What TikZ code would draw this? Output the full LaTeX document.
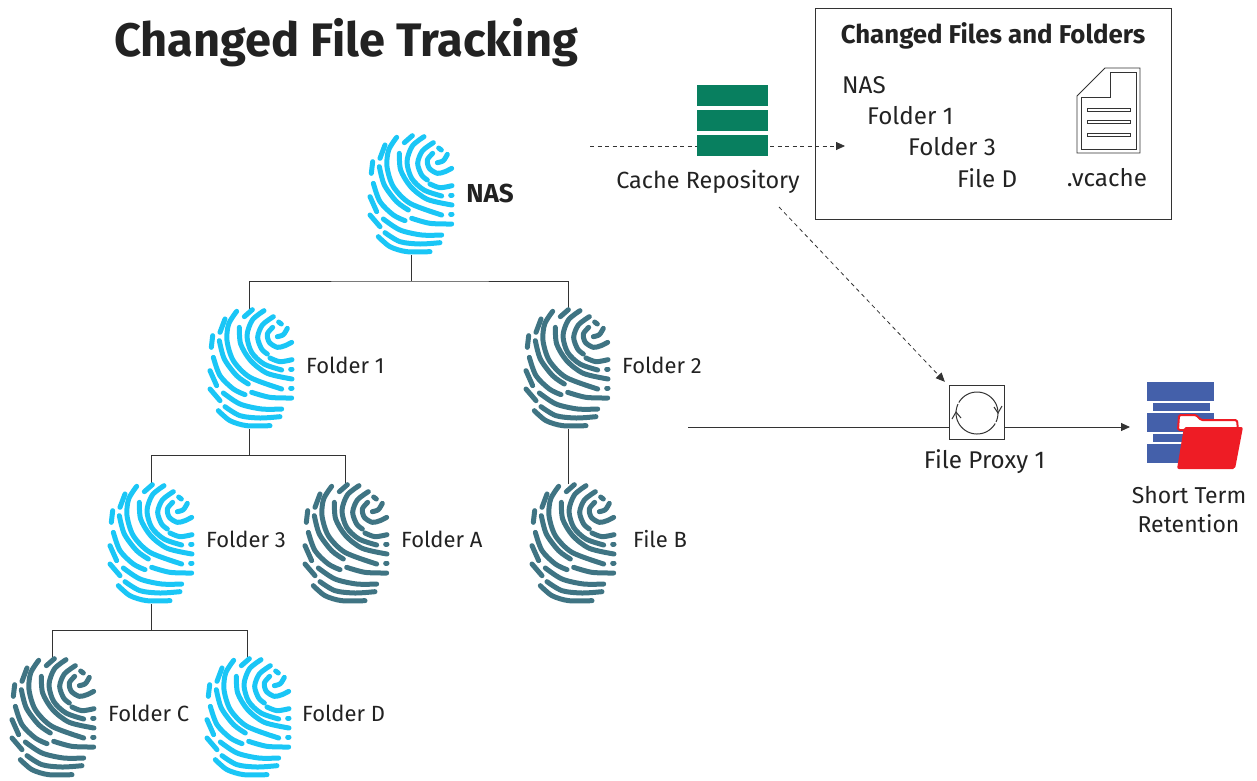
\documentclass[tikz,border=0pt]{standalone}
\usepackage{fontspec}
\setmainfont{Fira Sans}
\newfontfamily\titlefont{Fira Sans}
\usetikzlibrary{arrows.meta,calc}
\definecolor{fpcyan}{HTML}{1AC6F6}
\definecolor{fpteal}{HTML}{3F7483}
\definecolor{repgreen}{HTML}{087F5F}
\definecolor{stblue}{HTML}{4460AA}
\definecolor{stred}{HTML}{EE1C25}
\definecolor{ink}{HTML}{222222}
\definecolor{wire}{HTML}{333333}
\newcommand\fpstroke[1]{\draw plot[smooth] coordinates {#1};}
\newcommand\fpall{%
\fpstroke{(292,103)(280,122)(262,128)}
\fpstroke{(266,84)(274,90)}
\fpstroke{(248,100)(232,120)(238,145)(262,160)(285,155)(305,145)}
\fpstroke{(250,68)(217,93)(203,130)(215,165)(232,180)}
\fpstroke{(240,192)(270,203)(306,197)}
\fpstroke{(222,50)(187,78)(171,125)(185,175)(222,210)(275,228)}
\fpstroke{(187,47)(163,68)}
\fpstroke{(148,100)(152,150)(182,200)(232,238)(306,255)}
\fpstroke{(140,52)(116,90)(111,140)(130,200)(180,250)(275,285)}
\fpstroke{(105,75)(90,115)}
\fpstroke{(88,140)(103,195)(140,245)(175,270)}
\fpstroke{(68,125)(64,160)}
\fpstroke{(70,190)(90,245)(130,285)(165,302)}
\fpstroke{(185,295)(240,310)(305,312)}
\fpstroke{(302,225)(306,225)}
\fpstroke{(302,282)(306,282)}
\fpstroke{(60,230)(80,275)}
\fpstroke{(100,297)(150,330)(215,345)(275,345)}
\fpstroke{(60,285)(90,320)}
\fpstroke{(105,338)(150,365)(210,372)(270,368)}
\fpstroke{(85,350)(120,380)(170,395)(240,395)}
}
\tikzset{
  anchorbox/.style={minimum width=84pt,minimum height=120pt,inner sep=0pt},
  lbl/.style={text=ink,font=\fontsize{22}{26}\selectfont,inner sep=0pt},
  lblL/.style={lbl,anchor=west},
  lblB/.style={lbl,font=\fontsize{24.2}{28}\selectfont},
  lblBL/.style={lblB,anchor=west},
  tree/.style={draw=wire,line width=0.9pt},
  dashline/.style={draw=wire,line width=0.8pt,dash pattern=on 4pt off 3.5pt},
  tip/.style={-{Triangle[length=9pt,width=8pt]}},
  pics/fp/.style={code={
    \begin{scope}[x=0.3333pt,y=-0.3333pt,shift={(-183,-225)},draw=#1,line width=5pt,line cap=round,line join=round]
      \fpall
    \end{scope}
  }}
}
\begin{document}
\begin{tikzpicture}[x=1pt,y=-1pt]
\useasboundingbox (0,0) rectangle (1257,780);
% anchors for the tree connectors
\node[anchorbox] (nas) at (411,195) {};
\node[anchorbox] (f1) at (249,369) {};
\node[anchorbox] (f2) at (568,369) {};
\node[anchorbox] (f3) at (151,544) {};
\node[anchorbox] (fa) at (345,544) {};
\node[anchorbox] (fb) at (568,544) {};
\node[anchorbox] (fc) at (52,718) {};
\node[anchorbox] (fd) at (247,718) {};
% connectors
\coordinate (nasj) at (411,281);
\coordinate (f1j) at (249,455);
\coordinate (f3j) at (151,630);
\draw[tree] (nas.south) -- (nasj);
\draw[tree] (f1.north) |- (nasj) -| (f2.north);
\draw[tree] (f1.south) -- (f1j);
\draw[tree] (f3.north) |- (f1j) -| (fa.north);
\draw[tree] (f3.south) -- (f3j);
\draw[tree] (fc.north) |- (f3j) -| (fd.north);
\draw[tree] (f2.south) -- (fb.north);
% fingerprints
\pic at (411,195) {fp=fpcyan};
\pic at (251,369) {fp=fpcyan};
\pic at (567,369) {fp=fpteal};
\pic at (151,544) {fp=fpcyan};
\pic at (346,544) {fp=fpteal};
\pic at (573,544) {fp=fpteal};
\pic at (53,718) {fp=fpteal};
\pic at (248,718) {fp=fpcyan};
% labels
\node[anchor=center,text=ink,font=\fontsize{26}{30}\selectfont\bfseries,inner sep=0pt] (nasl) at (490,193) {NAS};
\node[lblL] (f1l) at (306,365.5) {Folder 1};
\node[lblL] (f2l) at (622,365.5) {Folder 2};
\node[lblL] (f3l) at (206,539.5) {Folder 3};
\node[lblL] (fal) at (401,539.5) {Folder A};
\node[lblL] (fbl) at (633,539.5) {File B};
\node[lblL] (fcl) at (108,713.5) {Folder C};
\node[lblL] (fdl) at (302,713.5) {Folder D};
% title
\node[anchor=west,text=ink,inner sep=0pt,font=\fontsize{47}{50}\selectfont\titlefont\bfseries] (title) at (114,43) {Changed File Tracking};
% changed files box
\node[draw=wire,line width=1pt,minimum width=356pt,minimum height=211pt,inner sep=0pt] (box) at (993,113.5) {};
\node[text=ink,font=\fontsize{25.8}{29}\selectfont\bfseries,inner sep=0pt] (boxt) at (993,36) {Changed Files and Folders};
\node[lblBL] (t1) at (842,85) {NAS};
\node[lblBL] (t2) at (867,116) {Folder 1};
\node[lblBL] (t3) at (908,147) {Folder 3};
\node[lblBL] (t4) at (957,178) {File D};
\node[lblB] (t5) at (1107,178) {.vcache};
% document icon
\draw[wire,line width=0.9pt,fill=white] (1105,68) -- (1140,68) -- (1140,153) -- (1077,153) -- (1077,96) -- cycle;
\draw[wire,line width=0.8pt] (1110,72) -- (1136,72) -- (1136,149) -- (1081,149) -- (1081,97) -- (1110,97) -- cycle;
\foreach \yy in {110,122,135}{
  \draw[wire,line width=0.8pt,fill=white] (1087,\yy-1.5) rectangle (1130,\yy+1.5);
}
% cache repository
\coordinate (dashs) at (590,146);
\coordinate (dashe) at (845,146);
\coordinate (crs) at (779,207);
\node[draw=none,inner sep=0pt,minimum width=54pt,minimum height=53pt] (proxy) at (977,412.5) {};
\draw[dashline,tip] (dashs) -- (dashe);
\draw[dashline,tip] (crs) -- ($(proxy.north west)+(-5,-4)$);
\foreach \yy in {85,110,135}{
  \fill[repgreen] (697,\yy) rectangle (768,\yy+21);
}
\node[lbl,font=\fontsize{23.4}{28}\selectfont] (crl) at (708,182) {Cache Repository};
% file proxy
\draw[wire,line width=1pt,fill=white] (proxy.north west) rectangle (proxy.south east);
\coordinate (pc) at (977,413);
\draw[wire,line width=1pt] plot[smooth,domain=-150:25,samples=30] ({977+21*cos(\x)},{413+21*sin(\x)});
\draw[wire,line width=1pt] plot[smooth,domain=30:205,samples=30] ({977+21*cos(\x)},{413+21*sin(\x)});
\draw[wire,line width=1pt] (994,407) -- (998,413) -- (1002,406);
\draw[wire,line width=1pt] (952,419) -- (956,412) -- (961,418);
\node[lblB] (pl) at (984.5,462) {File Proxy 1};
% lines through proxy
\coordinate (ws) at (688,427);
\coordinate (we) at (1130,427);
\draw[tree] (ws) -- (ws -| proxy.west);
\draw[tree,tip] (we -| proxy.east) -- (we);
% short term retention
\fill[stblue] (1147,382) rectangle (1214,401);
\fill[stblue] (1153,403) rectangle (1210,411);
\fill[stblue] (1147,413) rectangle (1214,432);
\fill[stblue] (1153,434) rectangle (1210,442);
\fill[stblue] (1147,444) rectangle (1214,463);
\draw[stred,line width=2pt,fill=white,rounded corners=1.5pt] (1179,415) -- (1196,415) -- (1201,420) -- (1237,420) -- (1238,430) -- (1178,430) -- cycle;
\fill[stred,rounded corners=2pt] (1184,427) -- (1243,427) -- (1235,469) -- (1177,469) -- cycle;
\node[lbl,font=\fontsize{23}{27}\selectfont] (st1) at (1189,495) {Short Term};
\node[lbl,font=\fontsize{23}{27}\selectfont] (st2) at (1188.5,524) {Retention};
\end{tikzpicture}
\end{document}
